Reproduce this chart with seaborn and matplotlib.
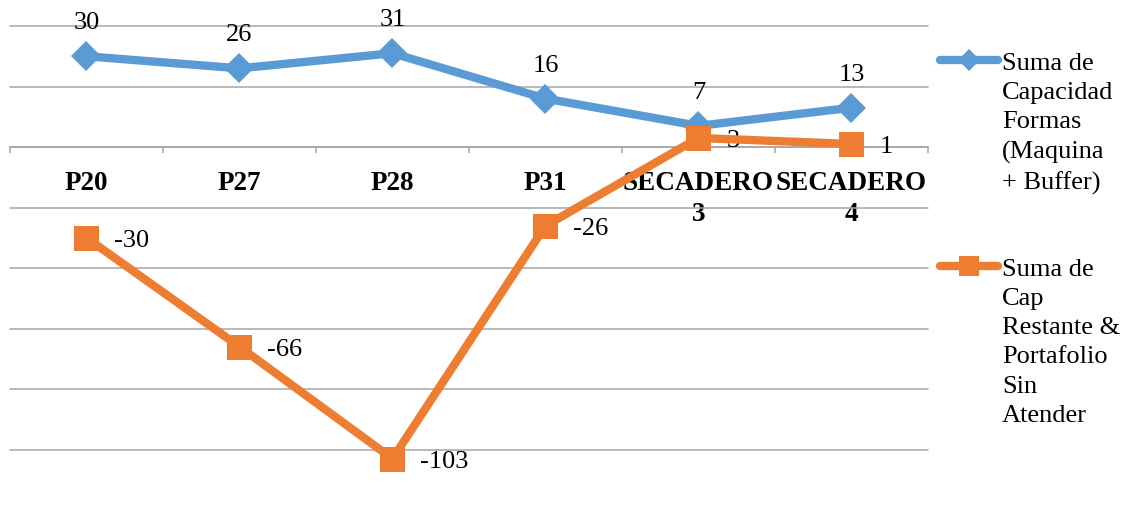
import numpy as np
import pandas as pd
import matplotlib
matplotlib.use("Agg")
import matplotlib.pyplot as plt
from matplotlib.lines import Line2D
from matplotlib.ticker import FixedLocator
import seaborn as sns

categories = ["P20", "P27", "P28", "P31", "SECADERO\n3", "SECADERO\n4"]
capacidad = [30, 26, 31, 16, 7, 13]
restante = [-30, -66, -103, -26, 3, 1]
series_names = [
    "Suma de\nCapacidad\nFormas\n(Maquina\n+ Buffer)",
    "Suma de\nCap\nRestante &\nPortafolio\nSin\nAtender",
]

BLUE = "#5B9BD5"
ORANGE = "#ED7D31"
GRID = "#A6A6A6"

sns.set_theme(style="white")
plt.rcParams["font.family"] = ["Liberation Serif", "DejaVu Serif"]

W, H = 1129, 506
fig = plt.figure(figsize=(W / 100, H / 100), dpi=100)
ax = fig.add_axes([10 / W, 0, (928 - 10) / W, 1 - 27 / H])

pos = np.arange(len(categories))
df = pd.DataFrame({"pos": pos, "cap": capacidad, "rest": restante})

sns.lineplot(data=df, x="pos", y="cap", ax=ax, color=BLUE, lw=6,
             marker="D", markersize=15, markeredgewidth=0, zorder=3)
sns.lineplot(data=df, x="pos", y="rest", ax=ax, color=ORANGE, lw=6,
             marker="s", markersize=18, markeredgewidth=0, zorder=4)

ax.set_xlim(-0.5, len(categories) - 0.5)
ax.set_ylim(-118.3, 40)
ax.set_xlabel("")
ax.set_ylabel("")

# horizontal gridlines every 20 units, no y labels
ax.set_yticks(np.arange(-100, 41, 20))
ax.set_yticklabels([])
ax.tick_params(axis="y", length=0)
ax.yaxis.grid(True, color=GRID, lw=1.1)
ax.xaxis.grid(False)
for gl in ax.get_ygridlines():
    gl.set_clip_on(False)

# category axis crossing at zero
for side in ["left", "right", "top"]:
    ax.spines[side].set_visible(False)
ax.spines["bottom"].set_position(("data", 0))
ax.spines["bottom"].set_color(GRID)
ax.spines["bottom"].set_linewidth(1.1)
ax.set_xticks(pos)
ax.set_xticklabels(categories, fontsize=19.5, fontweight="bold", color="black",
                   linespacing=1.32)
ax.xaxis.set_minor_locator(FixedLocator(np.arange(-0.5, len(categories), 1.0)))
ax.tick_params(axis="x", which="major", length=0, pad=16.5)
ax.tick_params(axis="x", which="minor", length=4.5, width=1.1, color=GRID,
               direction="out", bottom=True)

# value labels
for x, v in zip(pos, capacidad):
    ax.annotate(f"{v}", (x, v), xytext=(0, 24.5), textcoords="offset points",
                ha="center", va="center", fontsize=19, color="black")
for x, v in zip(pos, restante):
    ax.annotate(f"{v}", (x, v), xytext=(20, -1.5), textcoords="offset points",
                ha="left", va="center", fontsize=19, color="black")

# legend on the right, symbol aligned with the first text line
for (ly, color, mk, ms), label in zip(
        [(61, BLUE, "D", 11), (267, ORANGE, "s", 15)], series_names):
    yf = 1 - ly / H
    fig.add_artist(Line2D([940 / W, 998 / W], [yf, yf], transform=fig.transFigure,
                          color=color, lw=6, solid_capstyle="round"))
    fig.add_artist(Line2D([969 / W], [yf], transform=fig.transFigure,
                          color=color, marker=mk, markersize=ms, markeredgewidth=0))
    fig.text(1002 / W, 1 - (ly - 8) / H, label, ha="left", va="top",
             fontsize=19, linespacing=1.42, color="black")

fig.savefig("out.png", dpi=100)
